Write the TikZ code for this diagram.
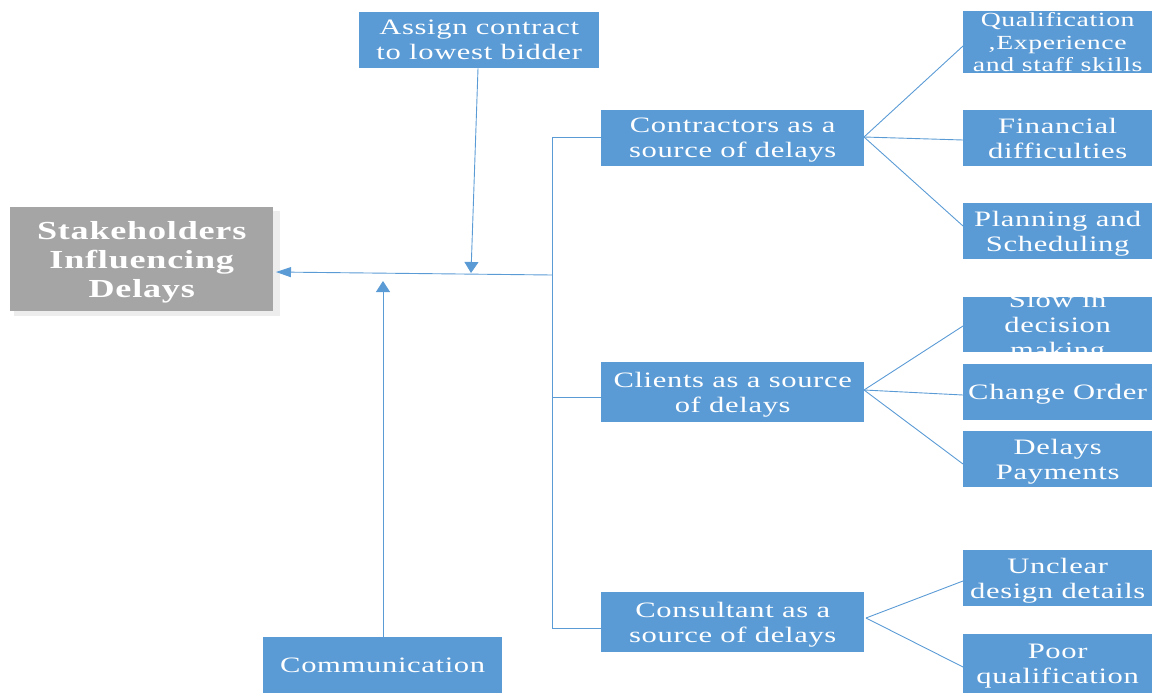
\documentclass[tikz,border=0pt]{standalone}
\usepackage{fontspec}
\setmainfont{Liberation Serif}[FakeStretch=1.39, LetterSpace=3]
\usetikzlibrary{arrows.meta}
\definecolor{boxblue}{HTML}{5B9BD5}
\definecolor{boxgray}{HTML}{A5A5A5}
\definecolor{linkblue}{HTML}{5B9BD5}
\begin{document}
\begin{tikzpicture}[x=1pt,y=-1pt,
  bluebox/.style={fill=boxblue, text=white, inner sep=0pt, anchor=north west,
    align=center, text depth=0pt, font=\fontsize{22}{25}\selectfont},
  graybox/.style={fill=boxgray, text=white, inner sep=0pt, anchor=north west,
    align=center, text depth=0pt, font=\fontsize{26}{29}\selectfont\bfseries},
  link/.style={draw=linkblue, line width=0.9pt},
  harrow/.style={link, -{Triangle[length=15pt,width=10pt]}},
  varrow/.style={link, -{Triangle[length=11pt,width=14pt]}}]
\useasboundingbox (0,0) rectangle (1152,693);

% central box with its soft shadow
\fill[black!7] (14,211) rectangle (280,316);
\node[graybox, minimum width=263pt, minimum height=104pt] (stake) at (10,207)
  {Stakeholders\\Influencing\\Delays};

% top and bottom influences
\node[bluebox, minimum width=240pt, minimum height=56pt] (assign) at (359,12)
  {Assign contract\\to lowest bidder};
\node[bluebox, minimum width=239pt, minimum height=56pt] (comm) at (263,637)
  {Communication};

% the three sources
\node[bluebox, minimum width=263pt, minimum height=56pt] (contr) at (601,110)
  {Contractors as a\\source of delays};
\node[bluebox, minimum width=263pt, minimum height=60pt] (client) at (601,362)
  {Clients as a source\\of delays};
\node[bluebox, minimum width=263pt, minimum height=60pt] (consult) at (601,592)
  {Consultant as a\\source of delays};

% contractor factors
\node[bluebox, minimum width=189pt, minimum height=62pt,
  font=\fontsize{20}{22.5}\selectfont] (qual) at (963,11)
  {Qualification\\,Experience\\and staff skills};
\node[bluebox, minimum width=189pt, minimum height=56pt] (fin) at (963,110)
  {Financial\\difficulties};
\node[bluebox, minimum width=189pt, minimum height=56pt] (plan) at (963,203)
  {Planning and\\Scheduling};

% client factors
\node[bluebox, minimum width=189pt, minimum height=55pt] (slow) at (963,297) {};
\begin{scope}
  \clip (963,297) rectangle (1152,352);
  \node[text=white, align=center, inner sep=0pt, text depth=0pt,
    font=\fontsize{22}{25}\selectfont] (slowtext) at (slow.center)
    {Slow in\\decision\\making};
\end{scope}
\node[bluebox, minimum width=189pt, minimum height=56pt] (change) at (963,364)
  {Change Order};
\node[bluebox, minimum width=189pt, minimum height=56pt] (delaysp) at (963,431)
  {Delays\\Payments};

% consultant factors
\node[bluebox, minimum width=189pt, minimum height=56pt] (unclear) at (963,550)
  {Unclear\\design details};
\node[bluebox, minimum width=189pt, minimum height=59pt] (poor) at (963,634)
  {Poor\\qualification};

% bus joining the sources
\coordinate (bus) at (552,275);
\coordinate (bustop) at (552,137);
\coordinate (busmid) at (552,397);
\coordinate (busbot) at (552,628);
\draw[link] (bustop) -- (busbot);
\draw[link] (bustop) -- (contr.west |- bustop);
\draw[link] (busmid) -- (client.west |- busmid);
\draw[link] (busbot) -- (consult.west |- busbot);
\draw[harrow] (bus) -- (276,272);

% influences pointing at the main line
\coordinate (assigntip) at (471,273);
\coordinate (commtip) at (383,281);
\draw[varrow] (assign.south -| 478,0) -- (assigntip);
\draw[varrow] (comm.north -| commtip) -- (commtip);

% fans to the factors
\coordinate (cfan) at (864,137);
\coordinate (kfan) at (864,390);
\coordinate (sfan) at (866,618);
\draw[link] (cfan) -- (963,46);
\draw[link] (cfan) -- (963,140);
\draw[link] (cfan) -- (963,226);
\draw[link] (kfan) -- (963,326);
\draw[link] (kfan) -- (963,395);
\draw[link] (kfan) -- (963,464);
\draw[link] (sfan) -- (963,581);
\draw[link] (sfan) -- (963,667);
\end{tikzpicture}
\end{document}
